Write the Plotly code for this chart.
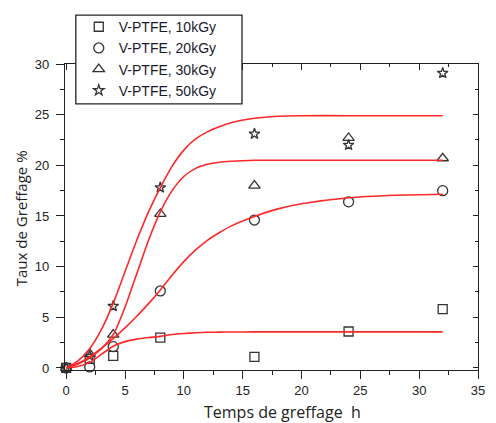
import plotly.graph_objects as go

# ---- data ----
times = [0, 2, 4, 8, 16, 24, 32]
taux_10 = [0, 0.9, 1.2, 3.0, 1.1, 3.6, 5.8]
taux_20 = [0, 0.1, 2.1, 7.6, 14.6, 16.4, 17.5]
taux_30 = [0, 1.4, 3.3, 15.2, 18.0, 22.7, 20.7]
taux_50 = [0, 1.2, 6.1, 17.8, 23.1, 22.0, 29.1]

series_names = ["V-PTFE, 10kGy", "V-PTFE, 20kGy", "V-PTFE, 30kGy", "V-PTFE, 50kGy"]
series_symbols = ["square-open", "circle-open", "triangle-up-open", "star-open"]
series_sizes = [9, 10, 10, 8]

# fitted curves
fit_x = [0, 1, 2, 3, 4, 5, 6, 7, 8, 9, 10, 11, 12, 13, 14, 16, 18, 20, 24, 28, 32]
fit_10 = [0, 0.15, 0.55, 1.35, 2.15, 2.6, 2.85, 3.0, 3.12, 3.3, 3.4, 3.47, 3.52, 3.54, 3.55, 3.56, 3.56, 3.56, 3.56, 3.56, 3.56]
fit_20 = [0, 0.45, 1.1, 1.95, 2.9, 3.95, 5.1, 6.35, 7.7, 9.15, 10.5, 11.65, 12.6, 13.35, 14.0, 14.95, 15.7, 16.2, 16.8, 17.05, 17.15]
fit_30 = [0, 0.4, 1.0, 1.9, 3.3, 6.0, 9.3, 12.6, 15.4, 17.5, 18.9, 19.7, 20.1, 20.3, 20.4, 20.5, 20.5, 20.5, 20.5, 20.5, 20.5]
fit_50 = [0, 0.7, 1.9, 3.8, 6.4, 9.5, 12.6, 15.4, 17.8, 19.9, 21.5, 22.6, 23.3, 23.8, 24.2, 24.65, 24.85, 24.9, 24.9, 24.9, 24.9]

x_ticks = [0, 5, 10, 15, 20, 25, 30, 35]
y_ticks = [0, 5, 10, 15, 20, 25, 30]

x_title = "Temps de greffage\u00a0 h"
y_title = "Taux de Greffage %"

# ---- figure ----
W, H = 496, 423
L, R, T, B = 65, 11, 63, 53
pw, ph = W - L - R, H - T - B

def px_x(p):
    return (p - L) / pw

def px_y(p):
    return (H - B - p) / ph

fig = go.Figure()

mk_color = "#333333"
for name, vals, sym, sz in zip(series_names, [taux_10, taux_20, taux_30, taux_50], series_symbols, series_sizes):
    fig.add_trace(go.Scatter(
        x=times, y=vals, mode="markers", name=name,
        marker=dict(symbol=sym, size=sz, color=mk_color, line=dict(color=mk_color, width=1.3)),
        cliponaxis=False,
    ))

for fy in [fit_10, fit_20, fit_30, fit_50]:
    fig.add_trace(go.Scatter(
        x=fit_x, y=fy, mode="lines", showlegend=False,
        line=dict(color="rgb(255,40,40)", width=1.6, shape="spline", smoothing=0.6),
        hoverinfo="skip",
    ))

# dummy trace for mirrored inward-tick axes
fig.add_trace(go.Scatter(x=[], y=[], xaxis="x2", yaxis="y2", showlegend=False))

xr = [-0.1, 35]
yr = [-0.2, 30]
tick_font = dict(family="Liberation Sans, Arial", size=13, color="#222")

fig.update_layout(
    width=W, height=H,
    margin=dict(l=L, r=R, t=T, b=B),
    paper_bgcolor="white", plot_bgcolor="white",
    showlegend=True,
    xaxis=dict(range=xr, tickvals=x_ticks, ticktext=[str(v) for v in x_ticks],
               ticks="outside", ticklen=8, tickwidth=1.2, tickcolor="#222",
               showline=True, linecolor="#222", linewidth=1.3, showgrid=False, zeroline=False,
               tickfont=tick_font,
               minor=dict(dtick=2.5, tick0=0, ticks="outside", ticklen=4, tickwidth=1, tickcolor="#222")),
    yaxis=dict(range=yr, tickvals=y_ticks, ticktext=[str(v) for v in y_ticks],
               ticks="outside", ticklen=8, tickwidth=1.2, tickcolor="#222",
               showline=True, linecolor="#222", linewidth=1.3, showgrid=False, zeroline=False,
               tickfont=tick_font, ticklabelstandoff=4,
               minor=dict(dtick=2.5, tick0=0, ticks="outside", ticklen=4, tickwidth=1, tickcolor="#222")),
    xaxis2=dict(range=xr, overlaying="x", side="top", tickvals=x_ticks, showticklabels=False,
                ticks="inside", ticklen=6, tickwidth=1.2, tickcolor="#222",
                showline=True, linecolor="#222", linewidth=1.3, showgrid=False, zeroline=False,
                minor=dict(dtick=2.5, tick0=0, ticks="inside", ticklen=3, tickwidth=1, tickcolor="#222")),
    yaxis2=dict(range=yr, overlaying="y", side="right", tickvals=y_ticks, showticklabels=False,
                ticks="inside", ticklen=5, tickwidth=1.2, tickcolor="#222",
                showline=True, linecolor="#222", linewidth=1.3, showgrid=False, zeroline=False,
                minor=dict(dtick=2.5, tick0=0, ticks="inside", ticklen=3, tickwidth=1, tickcolor="#222")),
    legend=dict(x=px_x(79), y=px_y(10), xanchor="left", yanchor="top",
                bgcolor="rgba(0,0,0,0)", borderwidth=0,
                font=dict(family="Liberation Sans, Arial", size=14, color="#1a1a2e"),
                tracegroupgap=0),
    shapes=[dict(type="rect", xref="paper", yref="paper",
                 x0=px_x(76), x1=px_x(245), y0=px_y(103), y1=px_y(14),
                 line=dict(color="#222", width=1.3), fillcolor="white", layer="above")],
    annotations=[
        dict(text=x_title, xref="paper", yref="paper", x=px_x(286), y=px_y(412),
             xanchor="center", yanchor="middle", showarrow=False,
             font=dict(family="Open Sans, Noto Sans", size=16, color="#222")),
        dict(text=y_title, xref="paper", yref="paper", x=px_x(21), y=px_y(218),
             xanchor="center", yanchor="middle", showarrow=False, textangle=-90,
             font=dict(family="Open Sans, Noto Sans", size=15, color="#222")),
    ],
)

fig.write_html("out.html", config={"displayModeBar": False},
               post_script="document.body.style.margin='0';document.body.style.overflow='hidden';")
